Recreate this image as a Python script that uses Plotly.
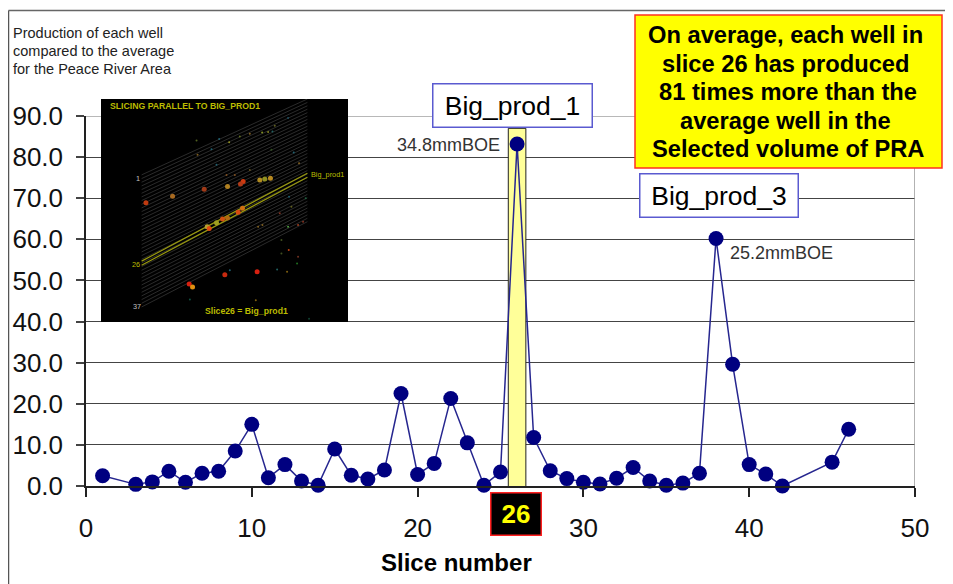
import plotly.graph_objects as go

# The page sets the figure 8 px in from the window's top-left corner
OFF = 8
W, H = 953 - OFF, 584 - OFF
L, R, T, B = 86, 915, 116, 486

slices = [1, 3, 4, 5, 6, 7, 8, 9, 10, 11, 12, 13, 14, 15, 16, 17, 18, 19, 20, 21, 22, 23, 24, 25,
          26, 27, 28, 29, 30, 31, 32, 33, 34, 35, 36, 37, 38, 39, 40, 41, 42, 45, 46]
production = [2.5, 0.4, 1.0, 3.6, 0.9, 3.1, 3.6, 8.5, 15.0, 2.0, 5.2, 1.2, 0.2, 9.0, 2.6, 1.7, 3.9, 22.5, 2.8, 5.5,
              21.3, 10.5, 0.2, 3.4, 83.2, 11.8, 3.7, 1.8, 0.9, 0.5, 1.9, 4.5, 1.2, 0.2, 0.7, 3.1, 60.2, 29.6, 5.2,
              2.9, 0.0, 5.8, 13.8]
x_ticks = [0, 10, 20, 30, 40, 50]
y_ticks = [0, 10, 20, 30, 40, 50, 60, 70, 80, 90]

inset_hot_x = [168, 248, 343, 413, 460, 452, 510, 525, 542, 352, 358, 380, 398, 413, 445, 458, 405, 502, 298, 308]
inset_hot_y = [338, 319, 298, 290, 275, 282, 270, 267, 265, 410, 415, 398, 387, 384, 367, 355, 554, 545, 581, 590]
inset_hot_c = ["#c03a10", "#a86a20", "#a03a18", "#b08020", "#d03a10", "#b03a18", "#b08a20", "#909020", "#b88a20",
               "#b8a030", "#e04a10", "#a0a020", "#d05010", "#b06a10", "#d84a10", "#d07010", "#c82a10", "#d82010",
               "#d82010", "#e09010"]
inset_tiny_x = [320, 323, 365, 388, 418, 450, 480, 517, 535, 548, 595, 555, 380, 435, 410, 480, 545, 612, 628, 598,
                648, 505, 518, 570, 605, 595, 625, 640, 575, 597, 625, 575, 622, 592, 420, 562, 498, 300, 658]
inset_tiny_y = [152, 195, 178, 148, 157, 140, 132, 128, 127, 125, 85, 108, 225, 255, 255, 240, 180, 188, 220, 320,
                325, 410, 405, 370, 350, 410, 405, 395, 450, 480, 500, 490, 520, 545, 540, 538, 630, 628, 685]
inset_tiny_c = ["#506020", "#806020", "#206070", "#206070", "#909020", "#607020", "#806020", "#809020", "#808020",
                "#206060", "#205060", "#606020", "#206070", "#805020", "#805020", "#605020", "#305020", "#206070",
                "#806020", "#206070", "#206040", "#806020", "#806020", "#803020", "#606020", "#50a040", "#a04020",
                "#803020", "#405020", "#c04010", "#703020", "#405020", "#207020", "#806010", "#206070", "#206060",
                "#806010", "#105040", "#104030"]
callout_lines = ["On average, each well in", "slice 26 has produced", "81 times more than the",
                 "average well in the", "Selected volume of PRA"]


def px(x):
    return (x - OFF) / W


def py(y):
    return 1 - (y - OFF) / H


fig = go.Figure()
fig.add_trace(go.Scatter(x=slices, y=production, mode="lines+markers", cliponaxis=False, showlegend=False,
                         line=dict(color="#26268f", width=1.5),
                         marker=dict(color="#000080", size=15)))

# inset picture: drawn in its own small axes
ix = dict(xaxis="x2", yaxis="y2", showlegend=False, hoverinfo="skip")
fig.add_trace(go.Scatter(x=[33, 775, 775, 33, 33], y=[28, 28, 695, 695, 28], mode="lines", fill="toself",
                         fillcolor="#000000", line=dict(color="#000000", width=0), **ix))
n = 37
gx, gy = [], []
for i in range(n):
    f = i / (n - 1)
    gx += [155, 653, None]
    gy += [255 + f * 395, 28 + f * 367, None]
fig.add_trace(go.Scatter(x=gx, y=gy, mode="lines", line=dict(color="#3e3e3e", width=0.7), **ix))
fig.add_trace(go.Scatter(x=[155, 653, None, 155, 653], y=[513, 250, None, 525, 262], mode="lines",
                         line=dict(color="#9a9a10", width=1.2), **ix))
fig.add_trace(go.Scatter(x=inset_tiny_x, y=inset_tiny_y, mode="markers",
                         marker=dict(color=inset_tiny_c, size=2), **ix))
fig.add_trace(go.Scatter(x=inset_hot_x, y=inset_hot_y, mode="markers",
                         marker=dict(color=inset_hot_c, size=5), **ix))

ann = []


def box(x0, y0, x1, y1, text, size, color="#000000", bg="#ffffff", border="#5a5ad0", bold=False):
    bw = 1.5
    ann.append(dict(xref="paper", yref="paper", x=px(x0), y=py(y0), xanchor="left", yanchor="top",
                    showarrow=False, text=f"<b>{text}</b>" if bold else text, align="center",
                    font=dict(size=size, color=color), bgcolor=bg, bordercolor=border, borderwidth=bw, borderpad=0,
                    width=x1 - x0 - 2 * bw, height=y1 - y0 - 2 * bw, valign="middle"))


def label(x, y, text, size, color="#222222", anchor="left", bold=False):
    ann.append(dict(xref="paper", yref="paper", x=px(x), y=py(y), xanchor=anchor, yanchor="middle",
                    showarrow=False, text=f"<b>{text}</b>" if bold else text, align="left",
                    font=dict(size=size, color=color), borderpad=0))


label(12, 33, "Production of each well", 14.5)
label(12, 51, "compared to the average", 14.5)
label(12, 69, "for the Peace River Area", 14.5)
box(432, 83, 593, 128, "Big_prod_1", 26.5)
box(639, 173, 799, 218, "Big_prod_3", 26.5)
for line, cx, cy in zip(callout_lines, [785.5, 786, 788, 785.5, 788], [35, 64, 92, 121, 149]):
    label(cx, cy, line, 23.7, color="#000000", anchor="center", bold=True)
box(490, 492, 542, 536, "26", 26, color="#ffff00", bg="#000000", border="#ff2020", bold=True)
label(501, 145, "34.8mmBOE", 18, color="#333333", anchor="right")
label(729, 253, "25.2mmBOE", 18, color="#333333")
label(456, 562, "Slice number", 24, color="#000000", anchor="center", bold=True)

Y = "#bcbc00"
for x, y, t, s, a, b in [(53, 50, "SLICING PARALLEL TO BIG_PROD1", 8.7, "left", True),
                         (340, 663, "Slice26 = Big_prod1", 8.7, "left", True),
                         (658, 255, "Big_prod1", 7.3, "left", False),
                         (119, 522, "26", 7.3, "left", False)]:
    ann.append(dict(xref="x2", yref="y2", x=x, y=y, xanchor=a, yanchor="middle", showarrow=False,
                    text=f"<b>{t}</b>" if b else t, font=dict(size=s, color=Y)))
for x, y, t in [(132, 267, "1"), (122, 650, "37")]:
    ann.append(dict(xref="x2", yref="y2", x=x, y=y, xanchor="left", yanchor="middle", showarrow=False,
                    text=t, font=dict(size=7.3, color="#c0c0c0")))

shapes = [
    dict(type="rect", xref="x", yref="y", x0=25.47, x1=26.53, y0=-0.25, y1=87, layer="between",
         fillcolor="#ffff99", line=dict(color="#222222", width=1)),
    dict(type="line", xref="x", yref="y", x0=0, x1=50, y0=90, y1=90, layer="between",
         line=dict(color="#a0a0a0", width=1.5)),
    dict(type="line", xref="x", yref="y", x0=50, x1=50, y0=0, y1=90, layer="between",
         line=dict(color="#999999", width=1.5)),
    dict(type="line", xref="paper", yref="paper", x0=px(8.5), x1=px(8.5), y0=py(10.5), y1=0,
         line=dict(color="#555555", width=1.5)),
    dict(type="line", xref="paper", yref="paper", x0=px(8.5), x1=1, y0=py(10.5), y1=py(10.5),
         line=dict(color="#666666", width=1.5)),
    dict(type="rect", xref="paper", yref="paper", x0=px(635), x1=px(942), y0=py(168), y1=py(15), layer="above",
         fillcolor="#ffff00", line=dict(color="#ff3020", width=1.5)),
]

fig.update_layout(
    width=W, height=H, autosize=False,
    margin=dict(l=0, r=0, t=0, b=0, pad=0, autoexpand=False),
    paper_bgcolor="#ffffff", plot_bgcolor="#ffffff",
    font=dict(family="Liberation Sans, Arial, sans-serif", color="#111111"),
    showlegend=False, hovermode=False,
    annotations=ann, shapes=shapes,
    xaxis=dict(domain=[px(L), px(R)], range=[0, 50], tickvals=x_ticks, tickformat="d", ticks="outside", ticklen=9,
               tickwidth=1.5, tickcolor="#222222", showline=True, linecolor="#222222", linewidth=1.5, showgrid=False,
               zeroline=False, tickfont=dict(size=26), ticklabelstandoff=9),
    yaxis=dict(domain=[py(B), py(T)], range=[0, 90], tickvals=y_ticks, tickformat=".1f", ticks="outside", ticklen=8,
               tickwidth=1.5, tickcolor="#444444", showline=True, linecolor="#222222", linewidth=1.5, showgrid=True,
               gridcolor="#444444", gridwidth=1.2, zeroline=False, tickfont=dict(size=26), ticklabelstandoff=8),
    xaxis2=dict(domain=[px(101), px(348)], range=[33, 775], anchor="y2", visible=False),
    yaxis2=dict(domain=[py(322), py(99)], range=[695, 28], anchor="x2", visible=False),
)

fig.write_html("out.html")
